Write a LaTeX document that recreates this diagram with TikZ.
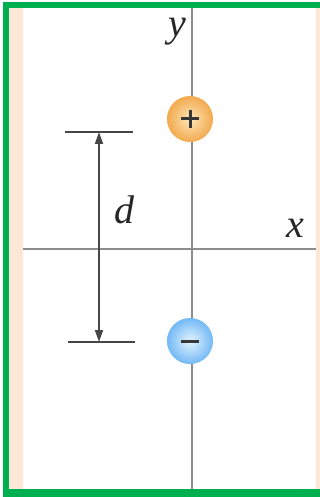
\documentclass[tikz,border=0pt]{standalone}
\usepackage{fontspec}
\setmainfont{Liberation Serif}
\usetikzlibrary{arrows.meta}
\definecolor{frameGreen}{RGB}{0,176,80}
\definecolor{peach}{RGB}{253,232,215}
\definecolor{axisGray}{RGB}{140,140,140}
\definecolor{dimGray}{RGB}{70,70,70}
\definecolor{orEdge}{RGB}{242,170,78}
\definecolor{orCenter}{RGB}{253,230,185}
\definecolor{blEdge}{RGB}{115,185,245}
\definecolor{blCenter}{RGB}{228,244,255}
\definecolor{signGray}{RGB}{55,55,55}
\tikzset{
  axisline/.style={draw=axisGray, line width=2.2pt},
  dimline/.style={draw=dimGray, line width=1.7pt},
  tickline/.style={draw=dimGray, line width=1.7pt},
  charge/.style={circle, minimum size=46pt, inner sep=0pt},
  signline/.style={draw=signGray, line width=3pt},
  dimtip/.style={Triangle[length=12pt,width=8pt]},
  lbl/.style={font=\fontsize{40}{44}\selectfont\itshape, text=black!85, inner sep=0pt}
}
\begin{document}
\begin{tikzpicture}[x=1pt,y=-1pt]
\useasboundingbox (0,0) rectangle (320,497);
\fill[white] (0,0) rectangle (320,497);
% peach strips
\fill[peach] (9,8) rectangle (23,489);
\fill[peach] (316,8) rectangle (320,489);
% green frame
\fill[frameGreen] (3,2) rectangle (320,8);
\fill[frameGreen] (3,2) rectangle (9,497);
\fill[frameGreen] (3,489) rectangle (320,497);
% axes
\coordinate (ytop) at (192,8);
\coordinate (ybot) at (192,489);
\coordinate (xleft) at (23,249);
\coordinate (xright) at (316,249);
\draw[axisline] (ytop) -- (ybot);
\draw[axisline] (xleft) -- (xright);
\node[lbl] (ylab) at (177,32) {y};
\node[lbl] (xlab) at (295,228) {x};
% charges
\node[charge, shading=radial, inner color=orCenter, outer color=orEdge] (plus) at (190,119) {};
\node[charge, shading=radial, inner color=blCenter, outer color=blEdge] (minus) at (190,341) {};
\draw[signline] (plus.center) ++(-9,0) -- ++(18,0);
\draw[signline] (plus.center) ++(0,-9) -- ++(0,18);
\draw[signline] (minus.center) ++(-9,0) -- ++(18,0);
% dimension
\coordinate (t1l) at (65,132);
\coordinate (t1r) at (133,132);
\coordinate (t2l) at (68,342);
\coordinate (t2r) at (135,342);
\coordinate (dtop) at (99,132);
\coordinate (dbot) at (99,342);
\draw[tickline] (t1l) -- (t1r);
\draw[tickline] (t2l) -- (t2r);
\draw[dimline, {Triangle[length=12pt,width=8pt]}-{Triangle[length=12pt,width=8pt]}] (dtop) -- (dbot);
\node[lbl] (dlab) at (124,210) {d};
\end{tikzpicture}
\end{document}
